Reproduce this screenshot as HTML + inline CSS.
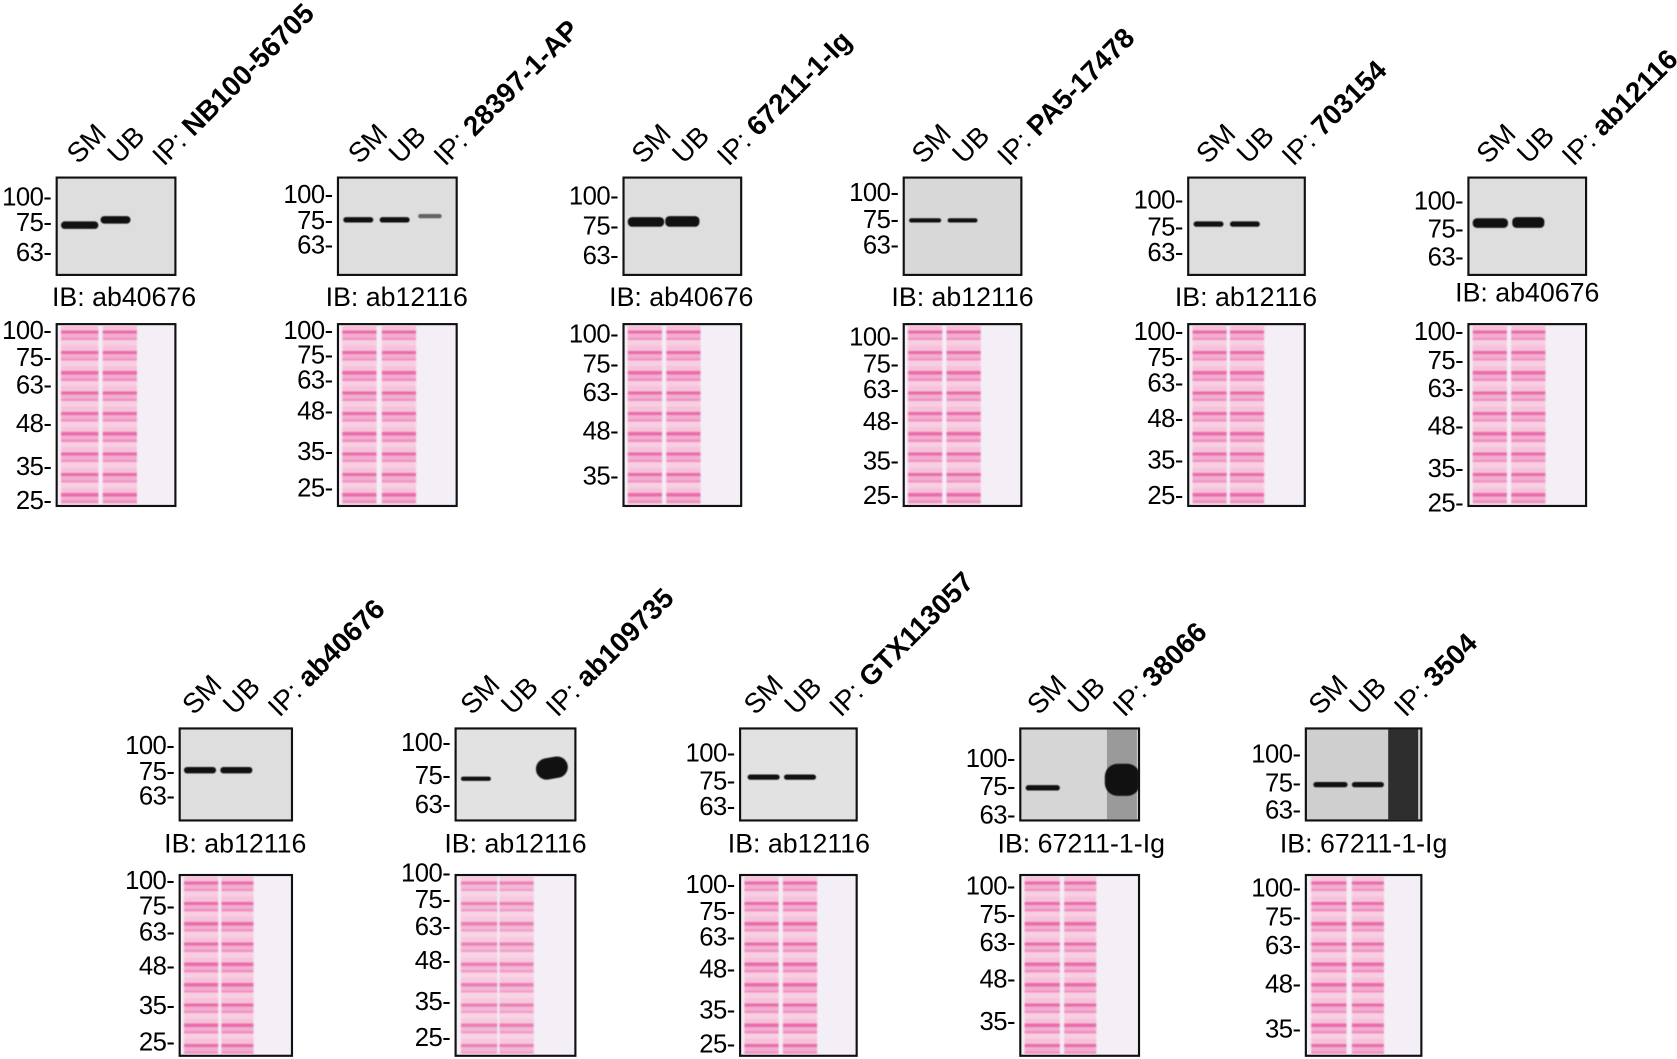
<!DOCTYPE html>
<html><head><meta charset="utf-8">
<style>
html,body{margin:0;padding:0;background:#fff;width:1677px;height:1059px;overflow:hidden}
#w{position:absolute;left:0;top:0;width:1568px;height:990px;transform:scale(1.0695,1.0697);transform-origin:0 0;font-family:"Liberation Sans",Arial,sans-serif;color:#000}
.b{position:absolute;border:2px solid #111;box-sizing:border-box;background:#dedede;overflow:hidden}
.p{position:absolute;border:2px solid #111;box-sizing:border-box;background:#f4eef6;overflow:hidden}
.ln{position:absolute;top:0;bottom:0;filter:blur(0.8px);background:repeating-linear-gradient(to bottom,#f6c2da 0 5px,#e96aa8 5px 8px,#f2aed0 8px 12px,#ee8cbe 12px 14px,#f8cfe2 14px 19px)}
.t{position:absolute;font-size:24px;line-height:24px;text-align:right;width:62px;white-space:nowrap;letter-spacing:-0.5px}
.ib{position:absolute;font-size:25px;line-height:25px;white-space:nowrap;text-align:center;width:200px}
.h{position:absolute;font-size:26px;line-height:26px;white-space:nowrap;transform:rotate(-45deg);transform-origin:0 100%}
.bd{position:absolute;background:#111;border-radius:4px;filter:blur(0.6px)}
</style></head><body><div id="w">

<!-- Panel 1 -->
<div class="h" style="left:76px;top:131px">SM</div><div class="h" style="left:114px;top:131px">UB</div><div class="h" style="left:156px;top:133px">IP: <b>NB100-56705</b></div>
<div class="b" style="left:52px;top:165px;width:113px;height:93px"><div class="bd" style="left:3px;top:40px;width:35px;height:7px"></div><div class="bd" style="left:40px;top:35px;width:28px;height:7px"></div></div>
<div class="t" style="left:-14px;top:173px">100-</div><div class="t" style="left:-14px;top:197px">75-</div><div class="t" style="left:-14px;top:225px">63-</div>
<div class="ib" style="left:16px;top:266px">IB: ab40676</div>
<div class="p" style="left:52px;top:302px;width:113px;height:172px"><div class="ln" style="left:3px;width:35px"></div><div class="ln" style="left:42px;width:32px"></div></div>
<div class="t" style="left:-14px;top:298px">100-</div><div class="t" style="left:-14px;top:323px">75-</div><div class="t" style="left:-14px;top:349px">63-</div><div class="t" style="left:-14px;top:385px">48-</div><div class="t" style="left:-14px;top:425px">35-</div><div class="t" style="left:-14px;top:457px">25-</div>

<!-- Panel 2 -->
<div class="h" style="left:339px;top:131px">SM</div><div class="h" style="left:377px;top:131px">UB</div><div class="h" style="left:419px;top:133px">IP: <b>28397-1-AP</b></div>
<div class="b" style="left:315px;top:165px;width:113px;height:93px"><div class="bd" style="left:4px;top:36px;width:28px;height:5px"></div><div class="bd" style="left:38px;top:36px;width:28px;height:5px"></div><div class="bd" style="left:74px;top:33px;width:22px;height:4px;opacity:.6"></div></div>
<div class="t" style="left:249px;top:171px">100-</div><div class="t" style="left:249px;top:195px">75-</div><div class="t" style="left:249px;top:218px">63-</div>
<div class="ib" style="left:271px;top:266px">IB: ab12116</div>
<div class="p" style="left:315px;top:302px;width:113px;height:172px"><div class="ln" style="left:3px;width:32px"></div><div class="ln" style="left:40px;width:32px"></div></div>
<div class="t" style="left:249px;top:298px">100-</div><div class="t" style="left:249px;top:321px">75-</div><div class="t" style="left:249px;top:344px">63-</div><div class="t" style="left:249px;top:373px">48-</div><div class="t" style="left:249px;top:411px">35-</div><div class="t" style="left:249px;top:445px">25-</div>

<!-- Panel 3 -->
<div class="h" style="left:604px;top:131px">SM</div><div class="h" style="left:642px;top:131px">UB</div><div class="h" style="left:684px;top:133px">IP: <b>67211-1-Ig</b></div>
<div class="b" style="left:582px;top:165px;width:112px;height:93px"><div class="bd" style="left:3px;top:36px;width:34px;height:9px"></div><div class="bd" style="left:38px;top:35px;width:32px;height:10px"></div></div>
<div class="t" style="left:516px;top:172px">100-</div><div class="t" style="left:516px;top:200px">75-</div><div class="t" style="left:516px;top:228px">63-</div>
<div class="ib" style="left:537px;top:266px">IB: ab40676</div>
<div class="p" style="left:582px;top:302px;width:112px;height:172px"><div class="ln" style="left:3px;width:32px"></div><div class="ln" style="left:39px;width:32px"></div></div>
<div class="t" style="left:516px;top:301px">100-</div><div class="t" style="left:516px;top:329px">75-</div><div class="t" style="left:516px;top:356px">63-</div><div class="t" style="left:516px;top:392px">48-</div><div class="t" style="left:516px;top:434px">35-</div>

<!-- Panel 4 -->
<div class="h" style="left:866px;top:131px">SM</div><div class="h" style="left:904px;top:131px">UB</div><div class="h" style="left:946px;top:133px">IP: <b>PA5-17478</b></div>
<div class="b" style="left:844px;top:165px;width:112px;height:93px;background:#d8d8d8"><div class="bd" style="left:4px;top:37px;width:30px;height:4px"></div><div class="bd" style="left:40px;top:37px;width:28px;height:4px"></div></div>
<div class="t" style="left:778px;top:169px">100-</div><div class="t" style="left:778px;top:194px">75-</div><div class="t" style="left:778px;top:218px">63-</div>
<div class="ib" style="left:800px;top:266px">IB: ab12116</div>
<div class="p" style="left:844px;top:302px;width:112px;height:172px"><div class="ln" style="left:3px;width:32px"></div><div class="ln" style="left:39px;width:32px"></div></div>
<div class="t" style="left:778px;top:304px">100-</div><div class="t" style="left:778px;top:329px">75-</div><div class="t" style="left:778px;top:353px">63-</div><div class="t" style="left:778px;top:383px">48-</div><div class="t" style="left:778px;top:420px">35-</div><div class="t" style="left:778px;top:452px">25-</div>

<!-- Panel 5 -->
<div class="h" style="left:1132px;top:131px">SM</div><div class="h" style="left:1170px;top:131px">UB</div><div class="h" style="left:1212px;top:133px">IP: <b>703154</b></div>
<div class="b" style="left:1110px;top:165px;width:111px;height:93px"><div class="bd" style="left:4px;top:40px;width:28px;height:5px"></div><div class="bd" style="left:38px;top:40px;width:28px;height:5px"></div></div>
<div class="t" style="left:1044px;top:176px">100-</div><div class="t" style="left:1044px;top:201px">75-</div><div class="t" style="left:1044px;top:225px">63-</div>
<div class="ib" style="left:1065px;top:266px">IB: ab12116</div>
<div class="p" style="left:1110px;top:302px;width:111px;height:172px"><div class="ln" style="left:3px;width:32px"></div><div class="ln" style="left:38px;width:32px"></div></div>
<div class="t" style="left:1044px;top:299px">100-</div><div class="t" style="left:1044px;top:323px">75-</div><div class="t" style="left:1044px;top:347px">63-</div><div class="t" style="left:1044px;top:380px">48-</div><div class="t" style="left:1044px;top:419px">35-</div><div class="t" style="left:1044px;top:452px">25-</div>

<!-- Panel 6 -->
<div class="h" style="left:1394px;top:131px">SM</div><div class="h" style="left:1432px;top:131px">UB</div><div class="h" style="left:1474px;top:133px">IP: <b>ab12116</b></div>
<div class="b" style="left:1372px;top:165px;width:112px;height:93px"><div class="bd" style="left:3px;top:37px;width:33px;height:9px"></div><div class="bd" style="left:40px;top:36px;width:30px;height:10px"></div></div>
<div class="t" style="left:1306px;top:177px">100-</div><div class="t" style="left:1306px;top:203px">75-</div><div class="t" style="left:1306px;top:229px">63-</div>
<div class="ib" style="left:1328px;top:262px">IB: ab40676</div>
<div class="p" style="left:1372px;top:302px;width:112px;height:172px"><div class="ln" style="left:3px;width:32px"></div><div class="ln" style="left:39px;width:32px"></div></div>
<div class="t" style="left:1306px;top:299px">100-</div><div class="t" style="left:1306px;top:326px">75-</div><div class="t" style="left:1306px;top:352px">63-</div><div class="t" style="left:1306px;top:387px">48-</div><div class="t" style="left:1306px;top:427px">35-</div><div class="t" style="left:1306px;top:459px">25-</div>

<!-- Panel 7 -->
<div class="h" style="left:184px;top:646px">SM</div><div class="h" style="left:222px;top:646px">UB</div><div class="h" style="left:264px;top:648px">IP: <b>ab40676</b></div>
<div class="b" style="left:167px;top:680px;width:107px;height:88px"><div class="bd" style="left:3px;top:35px;width:30px;height:6px"></div><div class="bd" style="left:37px;top:35px;width:30px;height:6px"></div></div>
<div class="t" style="left:101px;top:686px">100-</div><div class="t" style="left:101px;top:710px">75-</div><div class="t" style="left:101px;top:733px">63-</div>
<div class="ib" style="left:120px;top:777px">IB: ab12116</div>
<div class="p" style="left:167px;top:817px;width:107px;height:171px"><div class="ln" style="left:3px;width:32px"></div><div class="ln" style="left:38px;width:30px"></div></div>
<div class="t" style="left:101px;top:812px">100-</div><div class="t" style="left:101px;top:836px">75-</div><div class="t" style="left:101px;top:860px">63-</div><div class="t" style="left:101px;top:892px">48-</div><div class="t" style="left:101px;top:929px">35-</div><div class="t" style="left:101px;top:963px">25-</div>

<!-- Panel 8 -->
<div class="h" style="left:444px;top:646px">SM</div><div class="h" style="left:482px;top:646px">UB</div><div class="h" style="left:524px;top:648px">IP: <b>ab109735</b></div>
<div class="b" style="left:425px;top:680px;width:114px;height:88px;background:#e2e2e2"><div class="bd" style="left:4px;top:44px;width:28px;height:4px"></div><div class="bd" style="left:74px;top:26px;width:30px;height:20px;border-radius:10px;transform:rotate(-10deg)"></div></div>
<div class="t" style="left:359px;top:683px">100-</div><div class="t" style="left:359px;top:714px">75-</div><div class="t" style="left:359px;top:741px">63-</div>
<div class="ib" style="left:382px;top:777px">IB: ab12116</div>
<div class="p" style="left:425px;top:817px;width:114px;height:171px"><div class="ln" style="left:4px;width:34px;opacity:.85"></div><div class="ln" style="left:40px;width:32px;opacity:.85"></div></div>
<div class="t" style="left:359px;top:805px">100-</div><div class="t" style="left:359px;top:830px">75-</div><div class="t" style="left:359px;top:855px">63-</div><div class="t" style="left:359px;top:887px">48-</div><div class="t" style="left:359px;top:925px">35-</div><div class="t" style="left:359px;top:959px">25-</div>

<!-- Panel 9 -->
<div class="h" style="left:709px;top:646px">SM</div><div class="h" style="left:747px;top:646px">UB</div><div class="h" style="left:789px;top:648px">IP: <b>GTX113057</b></div>
<div class="b" style="left:691px;top:680px;width:111px;height:88px;background:#e2e2e2"><div class="bd" style="left:6px;top:42px;width:30px;height:5px"></div><div class="bd" style="left:40px;top:42px;width:30px;height:5px"></div></div>
<div class="t" style="left:625px;top:693px">100-</div><div class="t" style="left:625px;top:719px">75-</div><div class="t" style="left:625px;top:743px">63-</div>
<div class="ib" style="left:647px;top:777px">IB: ab12116</div>
<div class="p" style="left:691px;top:817px;width:111px;height:171px"><div class="ln" style="left:3px;width:32px"></div><div class="ln" style="left:39px;width:32px"></div></div>
<div class="t" style="left:625px;top:816px">100-</div><div class="t" style="left:625px;top:841px">75-</div><div class="t" style="left:625px;top:865px">63-</div><div class="t" style="left:625px;top:895px">48-</div><div class="t" style="left:625px;top:933px">35-</div><div class="t" style="left:625px;top:965px">25-</div>

<!-- Panel 10 -->
<div class="h" style="left:974px;top:646px">SM</div><div class="h" style="left:1012px;top:646px">UB</div><div class="h" style="left:1054px;top:648px">IP: <b>38066</b></div>
<div class="b" style="left:953px;top:680px;width:113px;height:88px;background:#d6d6d6"><div style="position:absolute;left:80px;top:0;width:28px;height:88px;background:#9a9a9a"></div><div class="bd" style="left:4px;top:52px;width:32px;height:5px"></div><div class="bd" style="left:78px;top:32px;width:33px;height:30px;border-radius:12px"></div></div>
<div class="t" style="left:887px;top:698px">100-</div><div class="t" style="left:887px;top:724px">75-</div><div class="t" style="left:887px;top:751px">63-</div>
<div class="ib" style="left:911px;top:777px">IB: 67211-1-Ig</div>
<div class="p" style="left:953px;top:817px;width:113px;height:171px"><div class="ln" style="left:3px;width:33px"></div><div class="ln" style="left:40px;width:30px"></div></div>
<div class="t" style="left:887px;top:817px">100-</div><div class="t" style="left:887px;top:844px">75-</div><div class="t" style="left:887px;top:870px">63-</div><div class="t" style="left:887px;top:904px">48-</div><div class="t" style="left:887px;top:944px">35-</div>

<!-- Panel 11 -->
<div class="h" style="left:1237px;top:646px">SM</div><div class="h" style="left:1275px;top:646px">UB</div><div class="h" style="left:1317px;top:648px">IP: <b>3504</b></div>
<div class="b" style="left:1220px;top:680px;width:110px;height:88px;background:#cfcfcf"><div style="position:absolute;left:76px;top:0;width:28px;height:88px;background:#2e2e2e"></div><div class="bd" style="left:6px;top:49px;width:32px;height:5px"></div><div class="bd" style="left:42px;top:49px;width:30px;height:5px"></div></div>
<div class="t" style="left:1154px;top:694px">100-</div><div class="t" style="left:1154px;top:721px">75-</div><div class="t" style="left:1154px;top:746px">63-</div>
<div class="ib" style="left:1175px;top:777px">IB: 67211-1-Ig</div>
<div class="p" style="left:1220px;top:817px;width:110px;height:171px"><div class="ln" style="left:4px;width:33px"></div><div class="ln" style="left:42px;width:30px"></div></div>
<div class="t" style="left:1154px;top:819px">100-</div><div class="t" style="left:1154px;top:846px">75-</div><div class="t" style="left:1154px;top:873px">63-</div><div class="t" style="left:1154px;top:909px">48-</div><div class="t" style="left:1154px;top:951px">35-</div>

</div></body></html>
